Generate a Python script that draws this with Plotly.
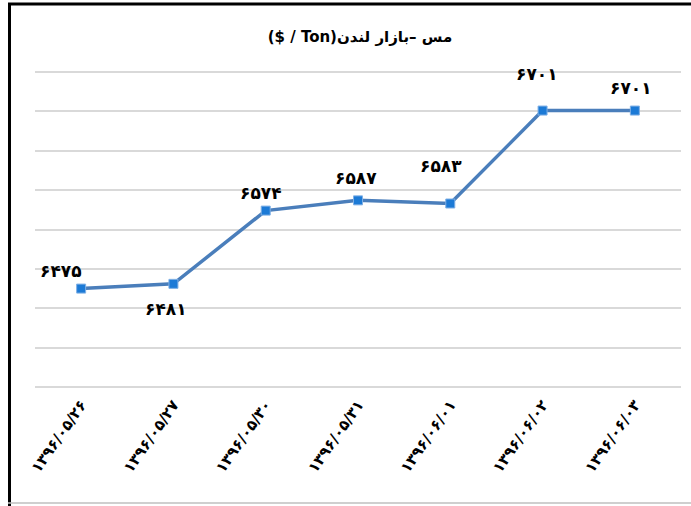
import plotly.graph_objects as go

dates = ['۱۳۹۶/۰۵/۲۶', '۱۳۹۶/۰۵/۲۷', '۱۳۹۶/۰۵/۳۰', '۱۳۹۶/۰۵/۳۱',
         '۱۳۹۶/۰۶/۰۱', '۱۳۹۶/۰۶/۰۲', '۱۳۹۶/۰۶/۰۳']
prices = [6475, 6481, 6574, 6587, 6583, 6701, 6701]
price_labels = ['۶۴۷۵', '۶۴۸۱', '۶۵۷۴', '۶۵۸۷', '۶۵۸۳', '۶۷۰۱', '۶۷۰۱']
title_text = '($ / Ton)مس –بازار لندن'

# label offsets in pixels (dx, dy) relative to each point
label_dx = [-20, -7, -5, -2, -9, -6, -4]
label_dy = [18, -25, 18, 22, 38, 37, 23]

W, H = 691, 506
L, R, T, B = 35, 10, 67, 114

fig = go.Figure()
fig.add_trace(go.Scatter(
    x=dates, y=prices, mode='lines+markers',
    line=dict(color='#4a7ebb', width=3.5),
    marker=dict(symbol='square', size=9, color='#1c7ad6',
                line=dict(color='#7fb0e6', width=1)),
    showlegend=False, hoverinfo='x+y'))

for d, v, t, dx, dy in zip(dates, prices, price_labels, label_dx, label_dy):
    fig.add_annotation(x=d, y=v, text='<b>' + t + '</b>', showarrow=False,
                       xshift=dx, yshift=dy,
                       font=dict(family='DejaVu Sans', size=17, color='black'))


def px(x):
    return (x - L) / (W - L - R)


def py(y):
    return (H - B - y) / (H - T - B)


shapes = [
    dict(type='line', xref='paper', yref='paper', x0=px(9.5), x1=px(9.5), y0=py(3), y1=py(506),
         line=dict(color='black', width=3)),
    dict(type='line', xref='paper', yref='paper', x0=px(8), x1=px(691), y0=py(4), y1=py(4),
         line=dict(color='black', width=3)),
    dict(type='line', xref='paper', yref='paper', x0=px(8), x1=px(691), y0=py(503), y1=py(503),
         line=dict(color='#bfbfbf', width=1.5)),
]

fig.update_layout(
    width=W, height=H, autosize=False,
    margin=dict(l=L, r=R, t=T, b=B),
    paper_bgcolor='white', plot_bgcolor='white',
    title=dict(text='<b>' + title_text + '</b>', x=360 / W, xanchor='center',
               y=1 - 37 / H, yanchor='middle', yref='container',
               font=dict(family='DejaVu Sans', size=15, color='black')),
    shapes=shapes,
    xaxis=dict(type='category', range=[-0.5, 6.5], showgrid=False, showline=False,
               ticks='', tickangle=-55, zeroline=False, automargin=False,
               tickfont=dict(family='DejaVu Sans', size=15, color='black'),
               tickprefix='<b>', ticksuffix='</b>'),
    yaxis=dict(range=[6343.7, 6756.3], dtick=50, tick0=6350, showticklabels=False,
               showgrid=True, gridcolor='#d9d9d9', gridwidth=1.5, zeroline=False,
               showline=False, ticks='', automargin=False),
)

fig.write_html('out.html', config={'displayModeBar': False},
               post_script='document.body.style.margin = "0";')
